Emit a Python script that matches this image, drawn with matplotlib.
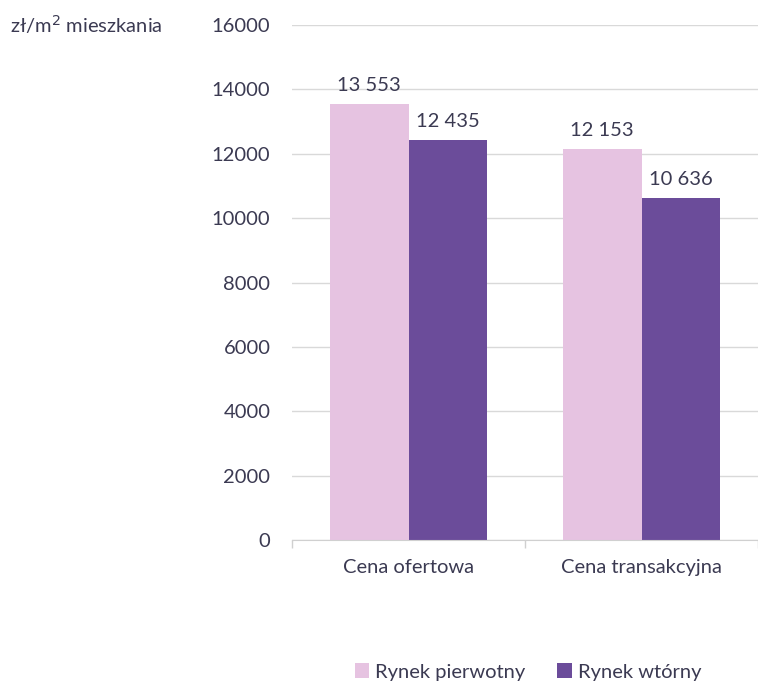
import matplotlib
matplotlib.use("Agg")
import matplotlib.pyplot as plt
from matplotlib.patches import Patch
import numpy as np

categories = ["Cena ofertowa", "Cena transakcyjna"]
series_names = ["Rynek pierwotny", "Rynek wtórny"]
pierwotny = [13553, 12153]
wtorny = [12435, 10636]
yticks = [0, 2000, 4000, 6000, 8000, 10000, 12000, 14000, 16000]

colors = ["#e6c3e1", "#6b4c9a"]
txt = "#3b3a52"
plt.rcParams['font.family'] = ['Lato', 'DejaVu Sans']
FS = 14.5

fig = plt.figure(figsize=(7.58, 6.84), dpi=100)
W, H = 758, 684
left = 292 / W
bottom = (H - 540) / H
top = (H - 25) / H
ax = fig.add_axes([left, bottom, 1 - left, top - bottom])

x = np.arange(len(categories))
bw = 80 / 237
ax.bar(x - bw / 2, pierwotny, bw, color=colors[0], zorder=3)
ax.bar(x + bw / 2, wtorny, bw, color=colors[1], zorder=3)

def fmt(v):
    return f"{v:,}".replace(",", " ")

for xi, v in zip(x - bw / 2, pierwotny):
    ax.text(xi, v + 300, fmt(v), ha="center", va="bottom", fontsize=FS, color=txt)
for xi, v in zip(x + bw / 2, wtorny):
    ax.text(xi, v + 300, fmt(v), ha="center", va="bottom", fontsize=FS, color=txt)

ax.set_ylim(0, 16000)
ax.set_xlim(-0.5, 0.5 + (W - 529) / 237)
ax.set_yticks(yticks)
ax.set_yticklabels([str(t) for t in yticks])
ax.set_xticks(x)
ax.set_xticklabels(categories)
ax.tick_params(axis="y", length=0, pad=15.5, labelsize=FS, labelcolor=txt)
ax.tick_params(axis="x", length=0, pad=14, labelsize=FS, labelcolor=txt)
ax.set_xticks([-0.5, 0.5, 1.5], minor=True)
ax.tick_params(axis="x", which="minor", length=6, color="#d0d0d0", width=1)
ax.grid(axis="y", color="#d9d9d9", linewidth=1, zorder=0)
for s in ["top", "right", "left"]:
    ax.spines[s].set_visible(False)
ax.spines["bottom"].set_color("#d0d0d0")
ax.spines["bottom"].set_zorder(4)

fig.text(10 / W, 1 - 25 / H, "zł/m$^2$ mieszkania", ha="left", va="center",
         fontsize=FS, color=txt)

handles = [Patch(facecolor=c) for c in colors]
fig.legend(handles, series_names, loc="center", bbox_to_anchor=(528 / W, 1 - 672 / H),
           ncol=2, frameon=False, fontsize=FS, labelcolor=txt,
           handlelength=0.7, handleheight=0.7, handletextpad=0.3, columnspacing=1.6)

fig.savefig("out.png", dpi=100)
